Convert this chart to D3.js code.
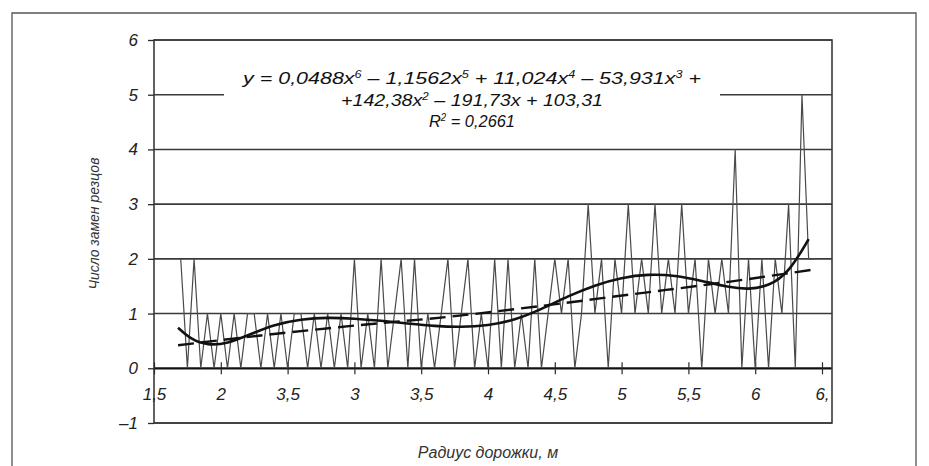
<!DOCTYPE html>
<html>
<head>
<meta charset="utf-8">
<script src="https://cdn.jsdelivr.net/npm/d3@7"></script>
<style>
  body { margin: 0; background: #fff; }
  svg { display: block; }
</style>
</head>
<body>
<div id="chart"></div>
<script>
// radius along the track (m) and number of cutter changes
const radius = [1.70, 1.75, 1.80, 1.85, 1.90, 1.95, 2.00, 2.05, 2.10, 2.15,
  2.20, 2.25, 2.30, 2.35, 2.40, 2.45, 2.50, 2.55, 2.60, 2.65,
  2.70, 2.75, 2.80, 2.85, 2.90, 2.95, 3.00, 3.05, 3.10, 3.15,
  3.20, 3.25, 3.30, 3.35, 3.40, 3.45, 3.50, 3.55, 3.60, 3.65,
  3.70, 3.75, 3.80, 3.85, 3.90, 3.95, 4.00, 4.05, 4.10, 4.15,
  4.20, 4.25, 4.30, 4.35, 4.40, 4.45, 4.50, 4.55, 4.60, 4.65,
  4.70, 4.75, 4.80, 4.85, 4.90, 4.95, 5.00, 5.05, 5.10, 5.15,
  5.20, 5.25, 5.30, 5.35, 5.40, 5.45, 5.50, 5.55, 5.60, 5.65,
  5.70, 5.75, 5.80, 5.85, 5.90, 5.95, 6.00, 6.05, 6.10, 6.15,
  6.20, 6.25, 6.30, 6.35, 6.40, 6.45]
const changes = [2, 0, 2, 0, 1, 0, 1, 0, 1, 0,
  1, 1, 0, 1, 0, 1, 0, 1, 1, 0,
  1, 0, 1, 0, 1, 0, 2, 0, 1, 0,
  2, 0, 1, 2, 0, 2, 0, 1, 0, 1,
  2, 0, 1, 2, 0, 1, 0, 2, 0, 2,
  0, 1, 0, 2, 0, 1, 2, 1, 2, 0,
  1, 3, 1, 2, 0, 2, 1, 3, 1, 2,
  1, 3, 1, 2, 1, 3, 1, 2, 0, 2,
  1, 2, 1, 4, 0, 2, 0, 2, 0, 2,
  1, 3, 0, 5, 2, 2]

// polynomial trend (solid)
const polyX = [1.68, 1.78, 1.90, 2.05, 2.22, 2.40, 2.60, 2.80, 3.00, 3.20, 3.40, 3.60, 3.80, 4.00,
  4.20, 4.40, 4.60, 4.80, 5.00, 5.20, 5.40, 5.60, 5.80, 5.95, 6.10, 6.25, 6.40]
const polyY = [0.74, 0.52, 0.42, 0.45, 0.62, 0.80, 0.90, 0.93, 0.91, 0.87, 0.82, 0.77, 0.75, 0.78,
  0.88, 1.08, 1.32, 1.52, 1.66, 1.72, 1.70, 1.60, 1.48, 1.44, 1.50, 1.74, 2.36]

// dashed trend
const trendX = [1.68, 2.30, 3.00, 3.70, 4.40, 5.10, 5.80, 6.45]
const trendY = [0.42, 0.60, 0.78, 0.94, 1.14, 1.36, 1.58, 1.81]

const yTicks = [-1, 0, 1, 2, 3, 4, 5, 6]
const xTicks = [1.5, 2, 2.5, 3, 3.5, 4, 4.5, 5, 5.5, 6, 6.5]
const xTickLabels = ["1,5", "2", "3,5", "3", "3,5", "4", "4,5", "5", "5,5", "6", "6,"]

const W = 929, H = 466
const m = { left: 154, right: 832, top: 40, bottom: 423 }
const ink = "#2a2a2a"
const font = "'Liberation Sans', Arial, sans-serif"

const svg = d3.select("#chart").append("svg")
  .attr("width", W)
  .attr("height", H)

// outer frame of the figure
svg.append("path")
  .attr("d", `M12,${H} L12,13 L916,13 L916,${H}`)
  .attr("fill", "none")
  .attr("stroke", "#555")
  .attr("stroke-width", 1.3)

const x = d3.scaleLinear().domain([1.5, 1.5 + (m.right - m.left) / 133.6]).range([m.left, m.right])
const y = d3.scaleLinear().domain([-1, 6]).range([m.bottom, m.top])

// horizontal grid
svg.append("g")
  .selectAll("line")
  .data(yTicks)
  .enter()
  .append("line")
  .attr("x1", m.left)
  .attr("x2", m.right)
  .attr("y1", d => y(d))
  .attr("y2", d => y(d))
  .attr("stroke", d => d === 0 ? "#111" : "#3a3a3a")
  .attr("stroke-width", d => d === 0 ? 2.2 : 1.6)

// plot frame
svg.append("rect")
  .attr("x", m.left)
  .attr("y", m.top)
  .attr("width", m.right - m.left)
  .attr("height", m.bottom - m.top)
  .attr("fill", "none")
  .attr("stroke", "#3a3a3a")
  .attr("stroke-width", 1.6)

// y ticks and labels
const yAxis = d3.axisLeft(y).tickValues(yTicks).tickSize(6)
  .tickFormat(d => d < 0 ? "\u2013" + Math.abs(d) : d)
svg.append("g")
  .attr("transform", `translate(${m.left},0)`)
  .call(yAxis)
  .call(g => g.select(".domain").remove())
  .call(g => g.selectAll(".tick line").attr("stroke", ink).attr("stroke-width", 1.3))
  .call(g => g.selectAll(".tick text")
    .attr("x", -16)
    .attr("font-size", 17)
    .attr("font-style", "italic")
    .attr("font-family", font)
    .attr("fill", "#222"))

// x ticks crossing the zero line, labels below
const xAxis = d3.axisBottom(x).tickValues(xTicks).tickSize(6)
  .tickFormat((d, i) => xTickLabels[i])
svg.append("g")
  .attr("transform", `translate(0,${y(0)})`)
  .call(xAxis)
  .call(g => g.select(".domain").remove())
  .call(g => g.selectAll(".tick line").attr("y1", -6).attr("stroke", ink).attr("stroke-width", 1.2))
  .call(g => g.selectAll(".tick text")
    .attr("y", 20)
    .attr("font-size", 17)
    .attr("font-style", "italic")
    .attr("font-family", font)
    .attr("fill", "#222"))

// raw data zigzag
const pts = radius.map((r, i) => [r, changes[i]])
svg.append("path")
  .datum(pts)
  .attr("d", d3.line().x(d => x(d[0])).y(d => y(d[1])))
  .attr("fill", "none")
  .attr("stroke", "#4a4a4a")
  .attr("stroke-width", 1.2)

// dashed trend
svg.append("path")
  .datum(trendX.map((v, i) => [v, trendY[i]]))
  .attr("d", d3.line().curve(d3.curveMonotoneX).x(d => x(d[0])).y(d => y(d[1])))
  .attr("fill", "none")
  .attr("stroke", "#111")
  .attr("stroke-width", 2.4)
  .attr("stroke-dasharray", "16,7")

// polynomial trend
svg.append("path")
  .datum(polyX.map((v, i) => [v, polyY[i]]))
  .attr("d", d3.line().curve(d3.curveBasis).x(d => x(d[0])).y(d => y(d[1])))
  .attr("fill", "none")
  .attr("stroke", "#111")
  .attr("stroke-width", 2.6)

// equation label with white background
svg.append("rect")
  .attr("x", 224)
  .attr("y", 64)
  .attr("width", 496)
  .attr("height", 68)
  .attr("fill", "#fff")

const eq = svg.append("g")
  .attr("font-family", font)
  .attr("font-style", "italic")
  .attr("fill", "#111")
  .attr("text-anchor", "middle")

const eqLines = [
  { yy: 84, len: 458, parts: [["y = 0,0488x"], ["6", 1], [" \u2013 1,1562x"], ["5", 1], [" + 11,024x"], ["4", 1], [" \u2013 53,931x"], ["3", 1], [" +"]] },
  { yy: 106, len: 262, parts: [["+142,38x"], ["2", 1], [" \u2013 191,73x + 103,31"]] },
  { yy: 127, len: 86, parts: [["R"], ["2", 1], [" = 0,2661"]] }
]
eqLines.forEach(l => {
  const t = eq.append("text")
    .attr("x", 472)
    .attr("y", l.yy)
    .attr("font-size", 17)
    .attr("textLength", l.len)
    .attr("lengthAdjust", "spacingAndGlyphs")
  let up = false
  l.parts.forEach(p => {
    const sup = !!p[1]
    t.append("tspan")
      .attr("font-size", sup ? 10 : 17)
      .attr("dy", sup ? -6 : (up ? 6 : 0))
      .text(p[0])
    up = sup
  })
})

// axis titles
svg.append("text")
  .attr("transform", `translate(99,${(m.top + m.bottom) / 2 - 8}) rotate(-90)`)
  .attr("text-anchor", "middle")
  .attr("font-family", font)
  .attr("font-style", "italic")
  .attr("font-size", 14)
  .attr("fill", "#333")
  .text("Число замен резцов")

svg.append("text")
  .attr("x", 488)
  .attr("y", 458)
  .attr("text-anchor", "middle")
  .attr("font-family", font)
  .attr("font-style", "italic")
  .attr("font-size", 16)
  .attr("fill", "#333")
  .text("Радиус дорожки, м")
</script>
</body>
</html>
